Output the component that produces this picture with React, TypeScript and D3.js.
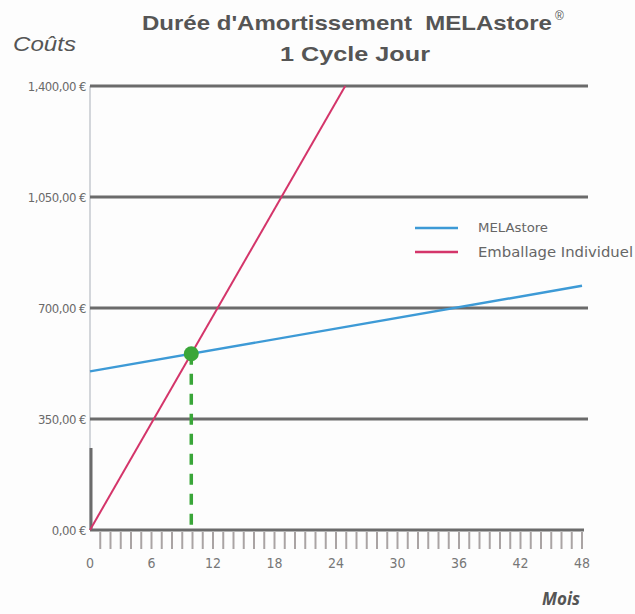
import React from "react";
import * as d3 from "d3";

const months = [0, 48];
const melastoreCost = [500, 770];
const emballageMonths = [0, 24.9];
const emballageCost = [0, 1400];
const yTicks = [0, 350, 700, 1050, 1400];
const yTickLabels = ["0,00 €", "350,00 €", "700,00 €", "1,050,00 €", "1,400,00 €"];
const xTickLabels = [0, 6, 12, 18, 24, 30, 36, 42, 48];
const minorTicks = d3.range(1, 49);
const seriesNames = ["MELAstore", "Emballage Individuel"];

const W = 635, H = 614;
const x = d3.scaleLinear().domain([0, 48]).range([90, 582]);
const y = d3.scaleLinear().domain([0, 1400]).range([530, 86]);

const gray = "#6b6b6b";
const textGray = "#555";
const blue = "#3d9ad6";
const red = "#d4356a";
const green = "#3aa639";

function intersect() {
  const b0 = melastoreCost[0], b1 = (melastoreCost[1] - melastoreCost[0]) / (months[1] - months[0]);
  const r1 = (emballageCost[1] - emballageCost[0]) / (emballageMonths[1] - emballageMonths[0]);
  const t = b0 / (r1 - b1);
  return [t, b0 + b1 * t];
}

export default function App() {
  const line = d3.line<[number, number]>().x(d => x(d[0])).y(d => y(d[1]));
  const blueData: [number, number][] = months.map((m, i) => [m, melastoreCost[i]]);
  const redData: [number, number][] = emballageMonths.map((m, i) => [m, emballageCost[i]]);
  const [bt, bv] = intersect();
  const cond = "'DejaVu Sans Condensed', 'Liberation Sans Narrow', sans-serif";
  const sans = "'Liberation Sans', Arial, sans-serif";
  return (
    <svg width={W} height={H} style={{ position: "absolute", left: 0, top: 0, background: "#fdfdfd" }}>
      <rect x={0} y={0} width={W} height={H} fill="#fdfdfd" />
      <text x={142} y={30} fontFamily={sans} fontWeight="bold" fontSize={21} fill={textGray} textLength={410} lengthAdjust="spacingAndGlyphs">
        Durée d'Amortissement{"\u00a0\u00a0"}MELAstore
      </text>
      <text x={555} y={20} fontFamily={sans} fontSize={12} fill={textGray}>®</text>
      <text x={355} y={61} textAnchor="middle" fontFamily={sans} fontWeight="bold" fontSize={21} fill={textGray} textLength={150} lengthAdjust="spacingAndGlyphs">
        1 Cycle Jour
      </text>
      <text x={13} y={51} fontFamily={sans} fontStyle="italic" fontSize={21} fill={textGray} textLength={63} lengthAdjust="spacingAndGlyphs">Coûts</text>
      <text x={580} y={605} textAnchor="end" fontFamily="'Open Sans', sans-serif" fontStyle="italic" fontWeight="bold" fontSize={17} fill={textGray}>Mois</text>

      <line x1={x(0)} x2={x(0)} y1={y(1400)} y2={y(0)} stroke="#b8bcc4" strokeWidth={1.2} />
      <line x1={x(0) + 1} x2={x(0) + 1} y1={448} y2={y(0)} stroke={gray} strokeWidth={3} />

      {yTicks.map((v, i) => (
        <g key={v}>
          <line x1={x(0)} x2={v === 0 ? x(48) + 2 : 588} y1={y(v)} y2={y(v)} stroke={gray} strokeWidth={3} />
          <text x={86} y={y(v) + 5} textAnchor="end" fontFamily={cond} fontSize={13} fill="#6a6a6a" letterSpacing={-0.5}>{yTickLabels[i]}</text>
        </g>
      ))}

      {minorTicks.map(m => (
        <line key={m} x1={x(m)} x2={x(m)} y1={532} y2={549} stroke="#aaa4a4" strokeWidth={2} />
      ))}
      {xTickLabels.map(m => (
        <text key={m} x={x(m)} y={568} textAnchor="middle" fontFamily={cond} fontSize={14} fill="#777">{m}</text>
      ))}

      <path d={line(blueData) || ""} fill="none" stroke={blue} strokeWidth={2.4} />
      <path d={line(redData) || ""} fill="none" stroke={red} strokeWidth={2} />

      <line x1={x(bt)} x2={x(bt)} y1={y(bv)} y2={y(0)} stroke={green} strokeWidth={3.5} strokeDasharray="11,9" />
      <circle cx={x(bt)} cy={y(bv)} r={7.5} fill={green} />

      <line x1={415} x2={458} y1={228} y2={228} stroke={blue} strokeWidth={2.4} />
      <line x1={415} x2={458} y1={252} y2={252} stroke={red} strokeWidth={2.4} />
      <text x={478} y={232} fontFamily={cond} fontSize={13} fill="#666" textLength={70} lengthAdjust="spacingAndGlyphs">{seriesNames[0]}</text>
      <text x={478} y={257} fontFamily={cond} fontSize={14} fill="#666" textLength={155} lengthAdjust="spacingAndGlyphs">{seriesNames[1]}</text>
    </svg>
  );
}
